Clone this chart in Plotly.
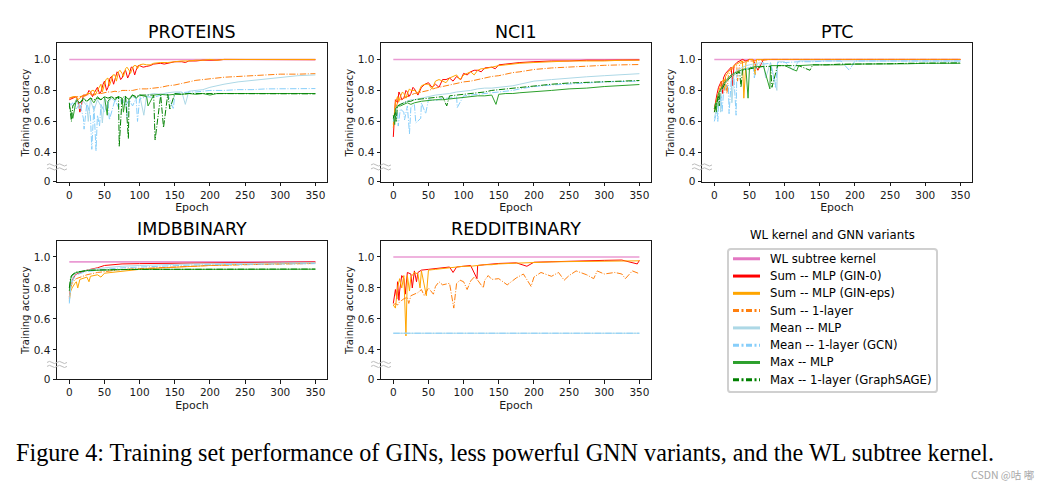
import plotly.graph_objects as go

W, H = 1040, 486

# ---------------- data ----------------
SERIES_NAMES = ["WL subtree kernel", "Sum -- MLP (GIN-0)", "Sum -- MLP (GIN-eps)", "Sum -- 1-layer",
                "Mean -- MLP", "Mean -- 1-layer (GCN)", "Max -- MLP", "Max -- 1-layer (GraphSAGE)"]
DATASETS = ["PROTEINS", "NCI1", "PTC", "IMDBBINARY", "REDDITBINARY"]
X_TICKS = [0, 50, 100, 150, 200, 250, 300, 350]
Y_TICKS = [0.211, 0.4, 0.6, 0.8, 1.0]
Y_TICK_TEXT = ["0", "0.4", "0.6", "0.8", "1.0"]

WL_EP = [0, 350]
WL_PROTEINS = [1.0, 1.0]
WL_NCI1 = [1.0, 1.0]
WL_PTC = [1.0, 1.0]
WL_IMDB = [0.968, 0.968]
WL_REDDIT = [1.0, 1.0]

# PROTEINS
P_EP = [0, 5, 10, 15, 20, 25, 30, 35, 40, 45, 50, 55, 60, 65, 70, 75, 80, 85, 90, 95, 100,
        110, 120, 130, 140, 150, 160, 170, 180, 190, 200, 210, 220, 240, 260, 280, 300, 325, 350]
P_GIN0 = [0.74, 0.75, 0.76, 0.66, 0.77, 0.77, 0.79, 0.78, 0.82, 0.79, 0.86, 0.82, 0.89, 0.87, 0.91, 0.88, 0.93, 0.90, 0.95, 0.93, 0.96,
          0.955, 0.97, 0.975, 0.975, 0.985, 0.985, 0.99, 0.99, 0.995, 0.995, 0.995, 1.0, 1.0, 1.0, 1.0, 1.0, 1.0, 0.998]
P_GIN0_X_EP = [13, 17, 28, 33, 38, 43, 48, 53, 58, 63, 68, 73, 78, 83, 88, 93, 98, 105, 115, 135, 165]
P_GIN0_X = [0.72, 0.70, 0.80, 0.76, 0.81, 0.78, 0.84, 0.80, 0.88, 0.84, 0.92, 0.87, 0.92, 0.88, 0.95, 0.90, 0.96, 0.95, 0.96, 0.97, 0.98]
P_GINEPS = [0.75, 0.76, 0.76, 0.75, 0.77, 0.78, 0.78, 0.80, 0.80, 0.84, 0.85, 0.88, 0.87, 0.90, 0.92, 0.91, 0.94, 0.93, 0.945, 0.96, 0.965,
            0.965, 0.975, 0.98, 0.98, 0.985, 0.99, 0.99, 0.995, 0.995, 1.0, 0.995, 1.0, 1.0, 1.0, 1.0, 1.0, 1.0, 1.0]
P_GINEPS_X_EP = [12, 22, 32, 37, 42, 47, 52, 57, 62, 67, 72, 77, 82, 87, 92, 97, 105, 115]
P_GINEPS_X = [0.74, 0.76, 0.80, 0.77, 0.82, 0.79, 0.87, 0.83, 0.90, 0.86, 0.93, 0.89, 0.95, 0.91, 0.96, 0.94, 0.97, 0.965]
P_SUM1 = [0.75, 0.755, 0.76, 0.76, 0.765, 0.77, 0.775, 0.77, 0.78, 0.78, 0.785, 0.79, 0.79, 0.795, 0.79, 0.80, 0.80, 0.80, 0.80, 0.805, 0.81,
          0.81, 0.815, 0.82, 0.83, 0.835, 0.845, 0.855, 0.865, 0.87, 0.875, 0.88, 0.885, 0.89, 0.895, 0.90, 0.905, 0.905, 0.908]
P_MEANMLP = [0.72, 0.70, 0.74, 0.68, 0.73, 0.70, 0.74, 0.67, 0.74, 0.70, 0.75, 0.72, 0.75, 0.73, 0.76, 0.72, 0.76, 0.74, 0.76, 0.75, 0.77,
             0.77, 0.78, 0.775, 0.785, 0.79, 0.79, 0.795, 0.80, 0.805, 0.82, 0.83, 0.84, 0.855, 0.865, 0.875, 0.885, 0.895, 0.90]
P_MEANMLP_X_EP = [27, 47, 82, 106, 165]
P_MEANMLP_X = [0.60, 0.59, 0.62, 0.64, 0.71]
P_GCN = [0.70, 0.72, 0.68, 0.72, 0.62, 0.72, 0.64, 0.70, 0.64, 0.71, 0.66, 0.73, 0.66, 0.74, 0.69, 0.74, 0.70, 0.74, 0.70, 0.75, 0.745,
         0.76, 0.755, 0.77, 0.775, 0.78, 0.785, 0.79, 0.79, 0.795, 0.80, 0.80, 0.80, 0.805, 0.805, 0.81, 0.81, 0.81, 0.812]
P_GCN_X_EP = [21, 32, 38, 43, 57, 97, 148]
P_GCN_X = [0.55, 0.42, 0.41, 0.57, 0.61, 0.60, 0.68]
P_MAXMLP = [0.70, 0.62, 0.74, 0.72, 0.75, 0.73, 0.75, 0.72, 0.76, 0.74, 0.76, 0.73, 0.76, 0.74, 0.76, 0.75, 0.76, 0.74, 0.77, 0.75, 0.77,
            0.76, 0.77, 0.775, 0.77, 0.775, 0.775, 0.78, 0.775, 0.78, 0.77, 0.78, 0.78, 0.78, 0.78, 0.78, 0.78, 0.78, 0.78]
P_MAXMLP_X_EP = [54, 77, 112]
P_MAXMLP_X = [0.64, 0.66, 0.70]
P_SAGE = [0.72, 0.70, 0.73, 0.72, 0.74, 0.73, 0.75, 0.74, 0.75, 0.74, 0.76, 0.75, 0.76, 0.75, 0.76, 0.75, 0.765, 0.75, 0.77, 0.76, 0.77,
          0.77, 0.77, 0.77, 0.775, 0.78, 0.775, 0.78, 0.78, 0.78, 0.78, 0.78, 0.78, 0.78, 0.78, 0.78, 0.78, 0.78, 0.778]
P_SAGE_X_EP = [3, 71, 84, 122, 134, 143]
P_SAGE_X = [0.60, 0.44, 0.49, 0.48, 0.56, 0.68]

# NCI1
N_EP = [0, 3, 6, 10, 15, 20, 25, 30, 40, 50, 60, 70, 80, 90, 100, 110, 120, 130, 140, 150,
        160, 170, 180, 200, 225, 250, 275, 300, 325, 350]
N_GIN0 = [0.50, 0.74, 0.72, 0.77, 0.75, 0.79, 0.78, 0.81, 0.82, 0.85, 0.84, 0.87, 0.88, 0.89, 0.91, 0.92, 0.93, 0.945, 0.95, 0.965,
          0.97, 0.975, 0.98, 0.985, 0.99, 0.99, 0.995, 0.995, 0.997, 0.997]
N_GIN0_X_EP = [8, 12, 18, 22, 28, 35, 45, 55, 65, 75, 85, 96, 105, 115, 125, 145]
N_GIN0_X = [0.79, 0.74, 0.80, 0.76, 0.82, 0.77, 0.84, 0.82, 0.82, 0.87, 0.86, 0.87, 0.90, 0.93, 0.92, 0.94]
N_GINEPS = [0.58, 0.72, 0.76, 0.76, 0.78, 0.78, 0.80, 0.80, 0.83, 0.84, 0.86, 0.86, 0.88, 0.90, 0.90, 0.92, 0.93, 0.94, 0.95, 0.96,
            0.965, 0.97, 0.975, 0.98, 0.985, 0.99, 0.99, 0.99, 0.995, 0.995]
N_GINEPS_X_EP = [8, 13, 18, 23, 35, 45, 55, 65, 75, 85, 95, 105, 115, 125]
N_GINEPS_X = [0.73, 0.79, 0.75, 0.81, 0.78, 0.84, 0.81, 0.87, 0.85, 0.89, 0.87, 0.91, 0.90, 0.94]
N_SUM1 = [0.56, 0.68, 0.72, 0.74, 0.75, 0.76, 0.77, 0.78, 0.79, 0.80, 0.815, 0.825, 0.835, 0.845, 0.855, 0.86, 0.87, 0.88, 0.89, 0.895,
          0.905, 0.915, 0.92, 0.935, 0.945, 0.952, 0.958, 0.962, 0.965, 0.967]
N_MEANMLP = [0.60, 0.66, 0.70, 0.71, 0.72, 0.73, 0.74, 0.74, 0.75, 0.76, 0.77, 0.775, 0.78, 0.79, 0.795, 0.80, 0.81, 0.815, 0.815, 0.82,
             0.825, 0.83, 0.84, 0.86, 0.87, 0.88, 0.888, 0.895, 0.902, 0.908]
N_GCN = [0.60, 0.64, 0.66, 0.68, 0.66, 0.70, 0.69, 0.71, 0.72, 0.74, 0.735, 0.75, 0.75, 0.76, 0.765, 0.77, 0.775, 0.78, 0.785, 0.79,
         0.795, 0.80, 0.81, 0.825, 0.835, 0.84, 0.848, 0.855, 0.858, 0.86]
N_GCN_X_EP = [7, 16, 23, 32, 39, 46, 91]
N_GCN_X = [0.57, 0.61, 0.52, 0.59, 0.62, 0.65, 0.69]
N_MAXMLP = [0.64, 0.68, 0.70, 0.70, 0.71, 0.72, 0.71, 0.72, 0.73, 0.735, 0.74, 0.74, 0.745, 0.75, 0.755, 0.76, 0.765, 0.765, 0.77, 0.775,
            0.78, 0.78, 0.785, 0.79, 0.80, 0.81, 0.815, 0.825, 0.832, 0.838]
N_MAXMLP_X_EP = [2, 146]
N_MAXMLP_X = [0.58, 0.71]
N_SAGE = [0.62, 0.66, 0.70, 0.71, 0.72, 0.73, 0.73, 0.74, 0.745, 0.75, 0.755, 0.76, 0.765, 0.77, 0.775, 0.78, 0.785, 0.79, 0.80, 0.805,
          0.81, 0.815, 0.82, 0.83, 0.84, 0.848, 0.852, 0.857, 0.86, 0.864]
N_SAGE_X_EP = [4, 76]
N_SAGE_X = [0.60, 0.70]

# PTC
T_EP = [0, 2, 4, 6, 8, 10, 13, 16, 20, 24, 28, 32, 36, 40, 45, 50, 55, 60, 70, 80, 90, 100,
        120, 140, 160, 180, 200, 225, 250, 275, 300, 325, 350]
T_GIN0 = [0.68, 0.74, 0.78, 0.82, 0.84, 0.86, 0.88, 0.91, 0.93, 0.95, 0.96, 0.98, 0.99, 1.0, 0.99, 1.0, 1.0, 0.95, 1.0, 1.0, 1.0, 1.0,
          1.0, 1.0, 1.0, 1.0, 1.0, 1.0, 1.0, 1.0, 1.0, 1.0, 1.0]
T_GIN0_X_EP = [12, 26, 62]
T_GIN0_X = [0.78, 0.83, 0.93]
T_GINEPS = [0.68, 0.72, 0.76, 0.80, 0.82, 0.85, 0.87, 0.89, 0.92, 0.94, 0.96, 0.97, 0.98, 0.99, 0.98, 1.0, 1.0, 1.0, 1.0, 1.0, 1.0, 1.0,
            1.0, 1.0, 1.0, 1.0, 1.0, 1.0, 1.0, 1.0, 1.0, 1.0, 1.0]
T_GINEPS_X_EP = [15, 42, 58]
T_GINEPS_X = [0.80, 0.75, 0.90]
T_SUM1 = [0.66, 0.70, 0.74, 0.77, 0.80, 0.82, 0.85, 0.88, 0.90, 0.93, 0.95, 0.96, 0.97, 0.98, 0.985, 0.99, 0.99, 0.995, 0.995, 1.0, 1.0, 1.0,
          1.0, 1.0, 1.0, 1.0, 1.0, 1.0, 1.0, 1.0, 1.0, 1.0, 1.0]
T_SUM1_X_EP = [18, 33]
T_SUM1_X = [0.78, 0.86]
T_MEANMLP = [0.62, 0.66, 0.70, 0.74, 0.77, 0.80, 0.82, 0.85, 0.87, 0.89, 0.91, 0.93, 0.94, 0.95, 0.96, 0.965, 0.97, 0.975, 0.98, 0.98, 0.985, 0.985,
             0.99, 0.99, 0.99, 0.99, 0.99, 0.99, 0.99, 0.99, 0.99, 0.99, 0.99]
T_MEANMLP_X_EP = [9, 25, 73, 89, 112]
T_MEANMLP_X = [0.66, 0.72, 0.88, 0.80, 0.93]
T_GCN = [0.60, 0.63, 0.67, 0.70, 0.73, 0.76, 0.78, 0.81, 0.84, 0.86, 0.88, 0.90, 0.92, 0.93, 0.94, 0.95, 0.96, 0.965, 0.97, 0.975, 0.98, 0.98,
         0.985, 0.985, 0.99, 0.99, 0.99, 0.99, 0.99, 0.99, 0.99, 0.99, 0.99]
T_GCN_X_EP = [5, 11, 21, 31, 57, 87, 192]
T_GCN_X = [0.60, 0.66, 0.65, 0.64, 0.88, 0.82, 0.93]
T_MAXMLP = [0.68, 0.72, 0.74, 0.78, 0.80, 0.82, 0.84, 0.86, 0.88, 0.90, 0.91, 0.92, 0.93, 0.935, 0.94, 0.945, 0.95, 0.955, 0.955, 0.96, 0.96, 0.96,
            0.96, 0.965, 0.965, 0.965, 0.97, 0.97, 0.97, 0.972, 0.975, 0.975, 0.975]
T_MAXMLP_X_EP = [3, 48, 79, 117]
T_MAXMLP_X = [0.66, 0.75, 0.81, 0.925]
T_SAGE = [0.66, 0.70, 0.73, 0.76, 0.78, 0.80, 0.83, 0.85, 0.87, 0.89, 0.90, 0.91, 0.92, 0.93, 0.935, 0.94, 0.945, 0.95, 0.955, 0.955, 0.96, 0.96,
          0.96, 0.965, 0.965, 0.97, 0.97, 0.97, 0.972, 0.975, 0.975, 0.975, 0.978]
T_SAGE_X_EP = [7, 38, 82, 136]
T_SAGE_X = [0.70, 0.82, 0.82, 0.93]

# IMDBBINARY
I_EP = [0, 2, 4, 6, 8, 10, 15, 20, 25, 30, 40, 50, 60, 75, 100, 125, 150, 175, 200, 250, 300, 350]
I_GIN0 = [0.74, 0.82, 0.85, 0.87, 0.88, 0.89, 0.90, 0.91, 0.915, 0.92, 0.93, 0.945, 0.95, 0.955, 0.957, 0.958, 0.96, 0.96, 0.962, 0.964, 0.966, 0.968]
I_GINEPS = [0.72, 0.78, 0.80, 0.82, 0.83, 0.84, 0.855, 0.865, 0.87, 0.875, 0.885, 0.895, 0.90, 0.91, 0.92, 0.928, 0.935, 0.94, 0.945, 0.952, 0.958, 0.962]
I_GINEPS_X_EP = [12, 28, 45]
I_GINEPS_X = [0.80, 0.84, 0.87]
I_SUM1 = [0.73, 0.80, 0.83, 0.845, 0.855, 0.86, 0.87, 0.88, 0.885, 0.89, 0.90, 0.905, 0.91, 0.92, 0.925, 0.93, 0.935, 0.94, 0.945, 0.95, 0.955, 0.958]
I_MEANMLP = [0.71, 0.82, 0.86, 0.88, 0.89, 0.895, 0.905, 0.91, 0.915, 0.92, 0.925, 0.93, 0.935, 0.94, 0.945, 0.95, 0.952, 0.955, 0.957, 0.96, 0.962, 0.963]
I_GCN = [0.70, 0.80, 0.84, 0.86, 0.875, 0.885, 0.895, 0.90, 0.905, 0.91, 0.915, 0.92, 0.925, 0.93, 0.935, 0.94, 0.945, 0.948, 0.95, 0.953, 0.955, 0.957]
I_MAXMLP = [0.78, 0.86, 0.88, 0.89, 0.895, 0.90, 0.905, 0.91, 0.912, 0.913, 0.915, 0.917, 0.918, 0.919, 0.92, 0.92, 0.92, 0.92, 0.92, 0.92, 0.921, 0.921]
I_SAGE = [0.80, 0.87, 0.885, 0.893, 0.898, 0.902, 0.907, 0.91, 0.913, 0.915, 0.916, 0.918, 0.918, 0.919, 0.92, 0.92, 0.92, 0.921, 0.921, 0.921, 0.921, 0.922]

# REDDITBINARY
R_EP = [0, 3, 6, 9, 12, 15, 20, 25, 30, 35, 40, 50, 60, 70, 80, 90, 100, 110, 120, 130, 140, 150,
        175, 200, 225, 250, 275, 300, 325, 350]
R_GIN0 = [0.70, 0.79, 0.84, 0.78, 0.88, 0.86, 0.90, 0.89, 0.91, 0.90, 0.915, 0.92, 0.925, 0.93, 0.935, 0.935, 0.94, 0.945, 0.945, 0.95, 0.955, 0.958,
          0.962, 0.966, 0.97, 0.973, 0.976, 0.978, 0.98, 0.978]
R_GIN0_X_EP = [5, 8, 17, 27, 33, 85, 119, 190, 347]
R_GIN0_X = [0.73, 0.72, 0.76, 0.80, 0.84, 0.90, 0.86, 0.94, 0.955]
R_GINEPS = [0.69, 0.67, 0.80, 0.86, 0.80, 0.88, 0.88, 0.87, 0.90, 0.89, 0.91, 0.915, 0.92, 0.925, 0.93, 0.935, 0.94, 0.94, 0.945, 0.95, 0.95, 0.955,
            0.96, 0.965, 0.968, 0.97, 0.972, 0.975, 0.975, 0.975]
R_GINEPS_X_EP = [18, 23, 38, 47]
R_GINEPS_X = [0.49, 0.78, 0.80, 0.75]
R_SUM1 = [0.69, 0.70, 0.69, 0.71, 0.72, 0.73, 0.74, 0.75, 0.76, 0.77, 0.79, 0.80, 0.81, 0.82, 0.83, 0.83, 0.84, 0.845, 0.85, 0.85, 0.855, 0.86,
          0.865, 0.87, 0.875, 0.88, 0.885, 0.89, 0.89, 0.892]
R_SUM1_X_EP = [22, 44, 57, 65, 86, 95, 105, 115, 128, 135, 162, 185, 196, 210, 235, 243, 260, 285, 290, 315, 330, 340]
R_SUM1_X = [0.70, 0.75, 0.76, 0.84, 0.67, 0.85, 0.79, 0.87, 0.80, 0.88, 0.82, 0.89, 0.81, 0.90, 0.90, 0.85, 0.91, 0.86, 0.91, 0.90, 0.86, 0.91]
R_MEAN_EP = [0, 350]
R_MEANMLP = [0.508, 0.508]
R_GCN = [0.508, 0.508]

# ---------------- styling ----------------
FONT = "DejaVu Sans"
DASHDOT = "6.4px,1.6px,1px,1.6px"
PLOT_STYLE = [
    dict(color="#ea9ad3", width=1.6, dash="solid"),
    dict(color="#ff0000", width=1.0, dash="solid"),
    dict(color="#ffa500", width=1.0, dash="solid"),
    dict(color="#ff7f0e", width=1.0, dash=DASHDOT),
    dict(color="#add8e6", width=1.0, dash="solid"),
    dict(color="#87cefa", width=1.0, dash=DASHDOT),
    dict(color="#2ca02c", width=1.0, dash="solid"),
    dict(color="#008000", width=1.0, dash=DASHDOT),
]
LEGEND_COLORS = ["#e377c2", "#ff0000", "#ffa500", "#ff7f0e", "#add8e6", "#87cefa", "#2ca02c", "#008000"]
LEGEND_DASH = ["solid", "solid", "solid", "6px,2.5px,2px,2.5px", "solid", "6px,2.5px,2px,2.5px", "solid", "6px,2.5px,2px,2.5px"]


def merge(ep, vals, x_ep=None, x_vals=None):
    pts = dict(zip(ep, vals))
    if x_ep:
        pts.update(zip(x_ep, x_vals))
    ks = sorted(pts)
    return ks, [pts[k] for k in ks]


PANELS = [
    ("PROTEINS", [
        (WL_EP, WL_PROTEINS, None, None),
        (P_EP, P_GIN0, P_GIN0_X_EP, P_GIN0_X),
        (P_EP, P_GINEPS, P_GINEPS_X_EP, P_GINEPS_X),
        (P_EP, P_SUM1, None, None),
        (P_EP, P_MEANMLP, P_MEANMLP_X_EP, P_MEANMLP_X),
        (P_EP, P_GCN, P_GCN_X_EP, P_GCN_X),
        (P_EP, P_MAXMLP, P_MAXMLP_X_EP, P_MAXMLP_X),
        (P_EP, P_SAGE, P_SAGE_X_EP, P_SAGE_X),
    ]),
    ("NCI1", [
        (WL_EP, WL_NCI1, None, None),
        (N_EP, N_GIN0, N_GIN0_X_EP, N_GIN0_X),
        (N_EP, N_GINEPS, N_GINEPS_X_EP, N_GINEPS_X),
        (N_EP, N_SUM1, None, None),
        (N_EP, N_MEANMLP, None, None),
        (N_EP, N_GCN, N_GCN_X_EP, N_GCN_X),
        (N_EP, N_MAXMLP, N_MAXMLP_X_EP, N_MAXMLP_X),
        (N_EP, N_SAGE, N_SAGE_X_EP, N_SAGE_X),
    ]),
    ("PTC", [
        (WL_EP, WL_PTC, None, None),
        (T_EP, T_GIN0, T_GIN0_X_EP, T_GIN0_X),
        (T_EP, T_GINEPS, T_GINEPS_X_EP, T_GINEPS_X),
        (T_EP, T_SUM1, T_SUM1_X_EP, T_SUM1_X),
        (T_EP, T_MEANMLP, T_MEANMLP_X_EP, T_MEANMLP_X),
        (T_EP, T_GCN, T_GCN_X_EP, T_GCN_X),
        (T_EP, T_MAXMLP, T_MAXMLP_X_EP, T_MAXMLP_X),
        (T_EP, T_SAGE, T_SAGE_X_EP, T_SAGE_X),
    ]),
    ("IMDBBINARY", [
        (WL_EP, WL_IMDB, None, None),
        (I_EP, I_GIN0, None, None),
        (I_EP, I_GINEPS, I_GINEPS_X_EP, I_GINEPS_X),
        (I_EP, I_SUM1, None, None),
        (I_EP, I_MEANMLP, None, None),
        (I_EP, I_GCN, None, None),
        (I_EP, I_MAXMLP, None, None),
        (I_EP, I_SAGE, None, None),
    ]),
    ("REDDITBINARY", [
        (WL_EP, WL_REDDIT, None, None),
        (R_EP, R_GIN0, R_GIN0_X_EP, R_GIN0_X),
        (R_EP, R_GINEPS, R_GINEPS_X_EP, R_GINEPS_X),
        (R_EP, R_SUM1, R_SUM1_X_EP, R_SUM1_X),
        (R_MEAN_EP, R_MEANMLP, None, None),
        (R_MEAN_EP, R_GCN, None, None),
        None,
        None,
    ]),
]

# pixel boxes of the five axes: (left, right, top, bottom)
BOXES = [(57, 327, 44, 184), (381, 651, 44, 184), (702, 972, 44, 184),
         (57, 327, 244, 384), (381, 651, 244, 384)]

fig = go.Figure()
layout = {}
annotations = []
shapes = []


def px(x):
    return x / W


def py(y):
    return 1 - y / H


for i, ((name, series), box) in enumerate(zip(PANELS, BOXES)):
    n = "" if i == 0 else str(i + 1)
    xa, ya = "x" + n, "y" + n
    l, r, t, b = box
    for k, s in enumerate(series):
        if s is None:
            continue
        ep, vals = merge(*s)
        fig.add_trace(go.Scatter(x=ep, y=vals, mode="lines", line=PLOT_STYLE[k], name=SERIES_NAMES[k],
                                 xaxis=xa, yaxis=ya, showlegend=False, hoverinfo="skip"))
    common = dict(showline=True, mirror=True, linecolor="#1a1a1a", linewidth=1, ticks="outside",
                  ticklen=3.5, tickwidth=1, tickcolor="#1a1a1a", showgrid=False, zeroline=False,
                  tickfont=dict(family=FONT, size=10.5, color="#1a1a1a"))
    layout["xaxis" + n] = dict(common, domain=[px(l), px(r)], anchor=ya, range=[-17.5, 366.5],
                               tickvals=X_TICKS,
                               title=dict(text="Epoch", font=dict(family=FONT, size=11, color="#1a1a1a"), standoff=3))
    layout["yaxis" + n] = dict(common, domain=[py(b), py(t)], anchor=xa, range=[0.211, 1.103],
                               tickvals=Y_TICKS, ticktext=Y_TICK_TEXT,
                               title=dict(text="Training accuracy", font=dict(family=FONT, size=10, color="#1a1a1a"), standoff=2))
    annotations.append(dict(x=px((l + r) / 2), y=py(t - 12), xref="paper", yref="paper", text=name,
                            showarrow=False, xanchor="center", yanchor="middle",
                            font=dict(family=FONT, size=17.5, color="#000000")))
    # broken-axis mark
    yb = t + 125
    for dy in (-2, 2):
        x0 = l - 10
        yy = yb + dy
        pts = [(x0, yy), (x0 + 2.5, yy - 2.2), (x0 + 5, yy), (x0 + 10, yy), (x0 + 15, yy), (x0 + 20, yy)]
        p = "M {:.5f},{:.5f} Q {:.5f},{:.5f} {:.5f},{:.5f} T {:.5f},{:.5f} T {:.5f},{:.5f} T {:.5f},{:.5f}".format(
            *[v for q in pts for v in (px(q[0]), py(q[1]))])
        shapes.append(dict(type="path", path=p, xref="paper", yref="paper",
                           line=dict(color="#bdbdbd", width=1)))

# legend (drawn as a boxed key)
LEG_L, LEG_R, LEG_T, LEG_B = 728, 937, 252, 397
rad = 3
box_path = ("M {a},{t} L {b},{t} Q {r},{t} {r},{tt} L {r},{bb} Q {r},{bo} {b},{bo} "
            "L {a},{bo} Q {l},{bo} {l},{bb} L {l},{tt} Q {l},{t} {a},{t} Z").format(
    a=px(LEG_L + rad), b=px(LEG_R - rad), l=px(LEG_L), r=px(LEG_R),
    t=py(LEG_T), tt=py(LEG_T + rad), bb=py(LEG_B - rad), bo=py(LEG_B))
shapes.append(dict(type="path", path=box_path, xref="paper", yref="paper",
                   line=dict(color="#d0d0d0", width=2), fillcolor="white", layer="above"))
for k, nm in enumerate(SERIES_NAMES):
    yy = 262 + k * 17.5
    shapes.append(dict(type="line", xref="paper", yref="paper", x0=px(733), x1=px(760), y0=py(yy), y1=py(yy),
                       line=dict(color=LEGEND_COLORS[k], width=3, dash=LEGEND_DASH[k]), layer="above"))
    annotations.append(dict(x=px(768), y=py(yy), xref="paper", yref="paper", text=nm, showarrow=False,
                            xanchor="left", yanchor="middle", font=dict(family=FONT, size=11.7, color="#000000")))

annotations.append(dict(x=px(832), y=py(238), xref="paper", yref="paper", text="WL kernel and GNN variants",
                        showarrow=False, xanchor="center", yanchor="middle",
                        font=dict(family=FONT, size=11.7, color="#000000")))
annotations.append(dict(x=px(14), y=py(458), xref="paper", yref="paper",
                        text="Figure 4: Training set performance of GINs, less powerful GNN variants, and the WL subtree kernel.",
                        showarrow=False, xanchor="left", yanchor="middle",
                        font=dict(family="Liberation Serif", size=24.2, color="#000000")))
annotations.append(dict(x=px(1036), y=py(480), xref="paper", yref="paper", text="CSDN @咕 嘟",
                        showarrow=False, xanchor="right", yanchor="middle",
                        font=dict(family="Noto Sans CJK SC", size=10.5, color="#a8a8a8")))

fig.update_layout(
    width=W, height=H, margin=dict(l=0, r=0, t=0, b=0),
    paper_bgcolor="white", plot_bgcolor="white",
    font=dict(family=FONT, color="#000000"),
    showlegend=False,
    annotations=annotations, shapes=shapes,
    **layout,
)

fig.write_html("out.html")
